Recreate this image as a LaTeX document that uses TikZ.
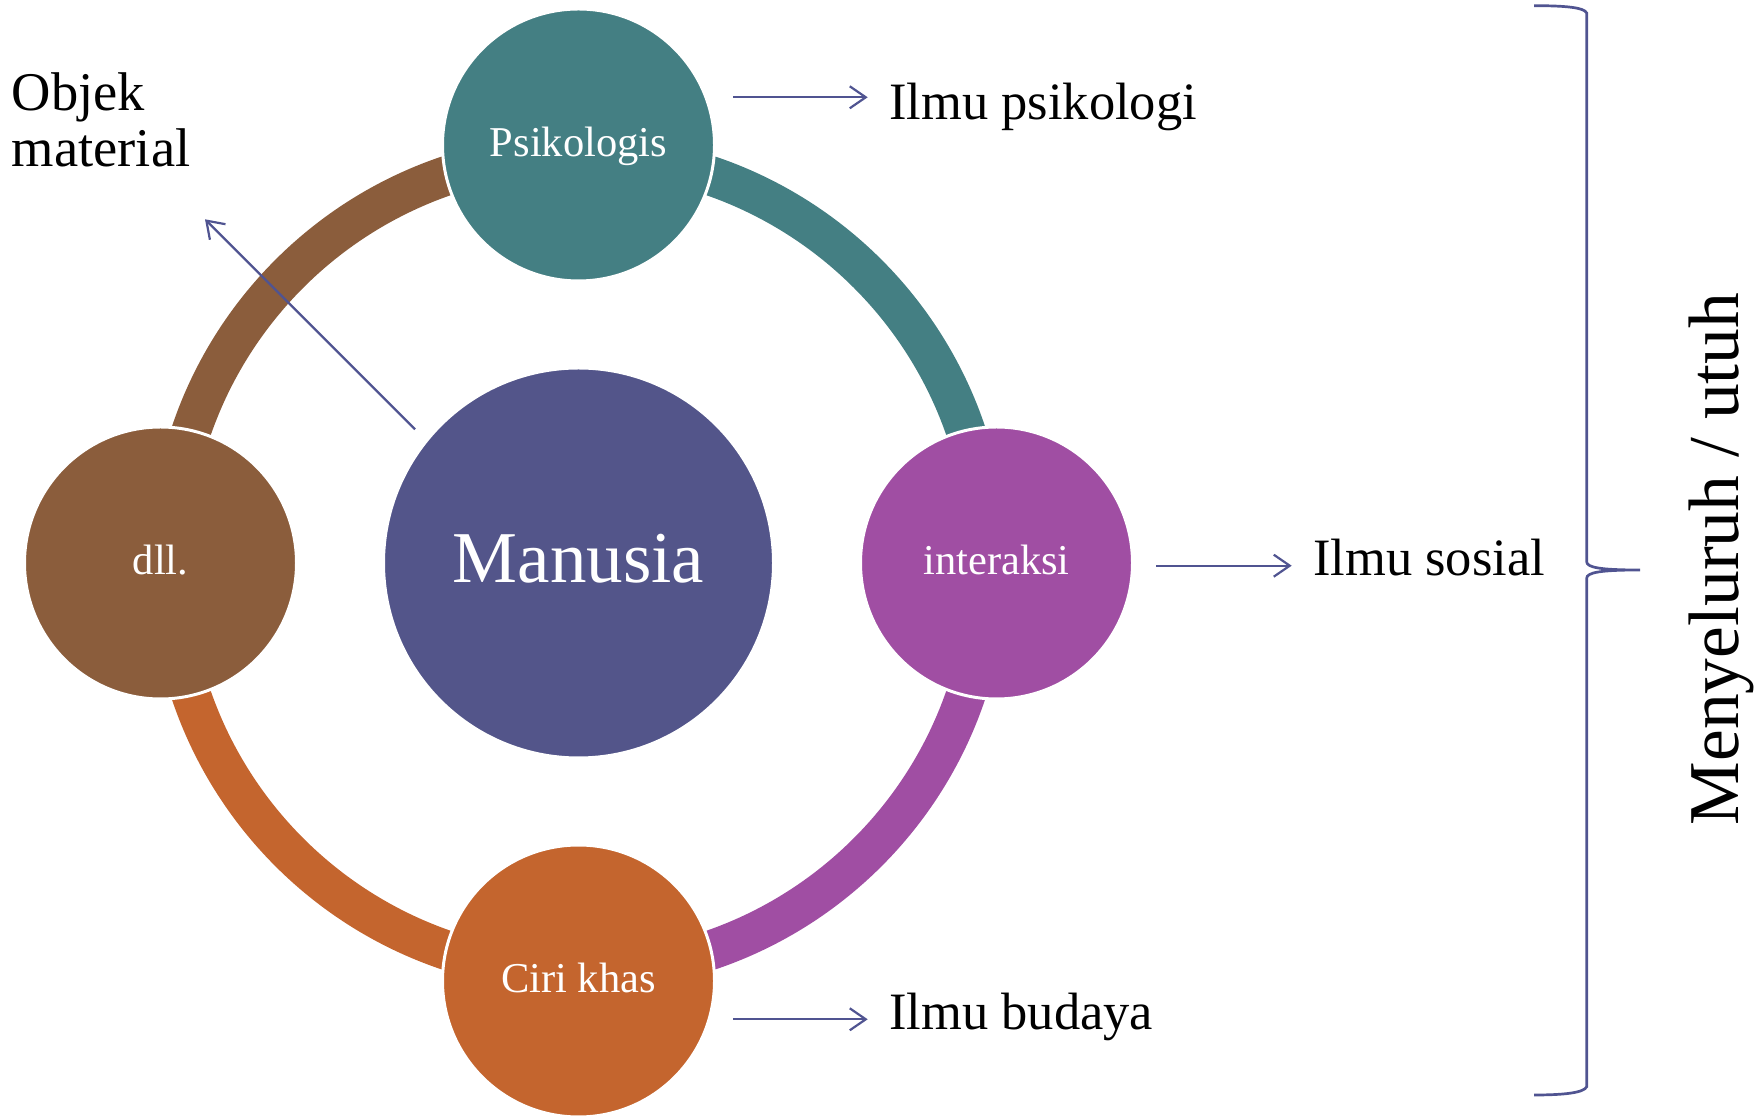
\documentclass[tikz,border=0pt]{standalone}
\usepackage{fontspec}
\setmainfont{Liberation Serif}
\usetikzlibrary{arrows.meta}
\definecolor{cteal}{HTML}{447F83}
\definecolor{cnavy}{HTML}{53558A}
\definecolor{cpurple}{HTML}{A04EA3}
\definecolor{corange}{HTML}{C4652E}
\definecolor{cbrown}{HTML}{8B5D3C}
\definecolor{carrow}{HTML}{505491}
\begin{document}
\begin{tikzpicture}[x=1pt,y=1pt,
  ring/.style={line width=39.5pt},
  bub/.style={circle, draw=white, line width=3pt, minimum size=272pt, inner sep=0pt,
    text=white, font=\fontsize{42.5}{50}\selectfont, text height=23pt, text depth=0pt},
  lab/.style={inner sep=0pt, anchor=base west, font=\fontsize{52.5}{60}\selectfont},
  conn/.style={draw=carrow, line width=2.2pt, -{Straight Barb[length=16pt,width=22pt]}},
  brace/.style={draw=carrow, line width=2.7pt, line join=miter}]
\useasboundingbox (0,0) rectangle (1758,1116);
\coordinate (C) at (578.5,553);
% ring segments
\draw[ring, cteal]   (C) ++(90:409)  arc[start angle=90,  end angle=0,    radius=409];
\draw[ring, cpurple] (C) ++(0:409)   arc[start angle=0,   end angle=-90,  radius=409];
\draw[ring, corange] (C) ++(270:409) arc[start angle=270, end angle=180,  radius=409];
\draw[ring, cbrown]  (C) ++(180:409) arc[start angle=180, end angle=90,   radius=409];
% circles
\node[circle, fill=cnavy, draw=white, line width=3pt, minimum size=390pt, inner sep=0pt,
  text=white, font=\fontsize{73}{80}\selectfont, text height=39.4pt, text depth=0pt]
  (man) at (578.5,553) {Manusia};
\node[bub, fill=cteal]   (psi) at (578.5,971) {Psikologis};
\node[bub, fill=cpurple] (int) at (996.5,553) {interaksi};
\node[bub, fill=corange] (cir) at (578.5,135) {Ciri khas};
\node[bub, fill=cbrown]  (dll) at (160.5,553) {dll.};
% labels
\node[lab] (ipsi) at (889,996) {Ilmu psikologi};
\node[lab] (isos) at (1313,540) {Ilmu sosial};
\node[lab] (ibud) at (889,86) {Ilmu budaya};
\node[inner sep=0pt, anchor=north west, align=left, font=\fontsize{54.5}{56.7}\selectfont]
  (obj) at (11.7,1044) {Objek\\material};
\node[inner sep=0pt, anchor=base, rotate=90, font=\fontsize{71.5}{80}\selectfont]
  (men) at (1738,557) {Menyeluruh / utuh};
% arrows
\coordinate (a1s) at (733,1018.7);  \coordinate (a1e) at (867.7,1018.7);
\coordinate (a2s) at (1156,550.3);  \coordinate (a2e) at (1291.7,550.3);
\coordinate (a3s) at (733,96.7);    \coordinate (a3e) at (867.7,96.7);
\coordinate (a4s) at (415,686.7);   \coordinate (a4e) at (205,896.7);
\draw[conn] (a1s) -- (a1e);
\draw[conn] (a2s) -- (a2e);
\draw[conn] (a3s) -- (a3e);
\draw[conn] (a4s) -- (a4e);
% brace
\coordinate (b1) at (1534,1110.3);
\coordinate (b2) at (1586.7,1103);
\coordinate (b3) at (1586.7,554.3);
\coordinate (bt) at (1640,546);
\coordinate (b4) at (1586.7,537.7);
\coordinate (b5) at (1586.7,29.3);
\coordinate (b6) at (1534,21);
\draw[brace] (b1) .. controls (1566,1110.3) and (1584,1108.5) .. (b2) -- (b3)
  .. controls (1586.7,548.5) and (1600,546) .. (bt)
  .. controls (1600,546) and (1586.7,543.5) .. (b4) -- (b5)
  .. controls (1584,23.5) and (1566,21) .. (b6);
\end{tikzpicture}
\end{document}
